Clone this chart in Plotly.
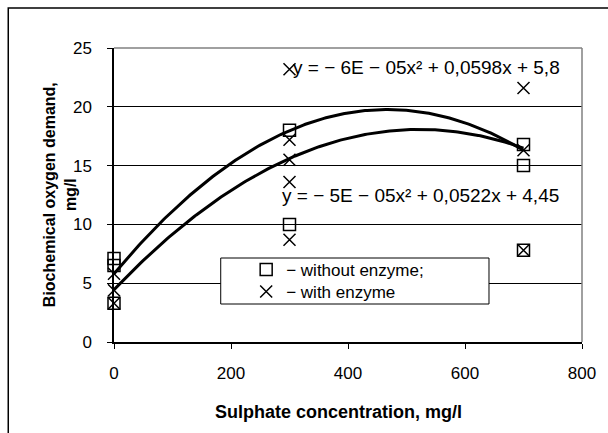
import numpy as np
import plotly.graph_objects as go

# ---- data ----
x_without = [0, 0, 0, 300, 300, 700, 700, 700]
y_without = [7.1, 6.5, 3.3, 18.0, 10.0, 16.8, 15.0, 7.8]

x_with = [0, 0, 0, 300, 300, 300, 300, 300, 700, 700, 700]
y_with = [5.8, 4.4, 3.3, 23.2, 17.2, 15.5, 13.6, 8.7, 21.6, 16.3, 7.8]

# polynomial trend coefficients (a, b, c) for y = a*x^2 + b*x + c
trend_without = [-6.4e-05, 0.0598, 5.8]
trend_with = [-5.0e-05, 0.0522, 4.45]
trend_range = [0, 700]

eq_without = "y = \u2212 6E \u2212 05x\u00b2 + 0,0598x + 5,8"
eq_with = "y = \u2212 5E \u2212 05x\u00b2 + 0,0522x + 4,45"

x_ticks = [0, 200, 400, 600, 800]
y_ticks = [0, 5, 10, 15, 20, 25]

FONT = "Liberation Sans, Arial, sans-serif"

# ---- layout geometry (pixels) ----
W, H = 608, 433
L, R, T, B = 114, 16, 48, 91
pw, ph = W - L - R, H - T - B


def px(xp):
    return (xp - L) / pw


def py(yp):
    return (H - B - yp) / ph


fig = go.Figure()

xt = np.linspace(trend_range[0], trend_range[1], 200)
for coef in (trend_without, trend_with):
    yt = coef[0] * xt ** 2 + coef[1] * xt + coef[2]
    fig.add_trace(go.Scatter(x=xt, y=yt, mode="lines",
                             line=dict(color="black", width=3),
                             showlegend=False, hoverinfo="skip"))

fig.add_trace(go.Scatter(
    x=x_without, y=y_without, mode="markers", name="\u2212 without enzyme;",
    marker=dict(symbol="square-open", size=12, color="black",
                line=dict(width=1.5, color="black")),
    cliponaxis=False, legend="legend"))
fig.add_trace(go.Scatter(
    x=x_with, y=y_with, mode="markers", name="\u2212 with enzyme",
    marker=dict(symbol="x-thin-open", size=12, color="black",
                line=dict(width=1.5, color="black")),
    cliponaxis=False, legend="legend2"))

shapes = [
    # outer chart frame
    dict(type="rect", xref="paper", yref="paper",
         x0=px(6), x1=px(640), y0=py(470), y1=py(8),
         line=dict(color="black", width=1.5), fillcolor="rgba(0,0,0,0)",
         layer="below"),
    # plot area border (top & right, gray)
    dict(type="line", xref="paper", yref="paper", x0=0, x1=1, y0=1, y1=1,
         line=dict(color="#808080", width=1.5)),
    dict(type="line", xref="paper", yref="paper", x0=1, x1=1, y0=0, y1=1,
         line=dict(color="#808080", width=1.5)),
    # legend box
    dict(type="rect", xref="paper", yref="paper",
         x0=px(223), x1=px(497), y0=py(304), y1=py(258),
         line=dict(color="black", width=1), fillcolor="white", layer="above"),
]

annotations = [
    dict(text=eq_without, xref="paper", yref="paper", x=px(295), y=py(68),
         xanchor="left", yanchor="middle", showarrow=False,
         font=dict(family=FONT, size=19, color="black")),
    dict(text=eq_with, xref="paper", yref="paper", x=px(284), y=py(195),
         xanchor="left", yanchor="middle", showarrow=False,
         font=dict(family=FONT, size=19, color="black")),
    dict(text="<b>Biochemical oxygen demand,</b><br><b>mg/l</b>",
         xref="paper", yref="paper", x=px(59), y=py(195),
         xanchor="center", yanchor="middle", textangle=-90, showarrow=False,
         font=dict(family=FONT, size=16, color="black")),
    dict(text="<b>Sulphate concentration, mg/l</b>",
         xref="paper", yref="paper", x=px(343), y=py(412),
         xanchor="center", yanchor="middle", showarrow=False,
         font=dict(family=FONT, size=18, color="black")),
]

legend_common = dict(xanchor="left", yanchor="top",
                     bgcolor="rgba(0,0,0,0)", borderwidth=0,
                     font=dict(family=FONT, size=17, color="black"),
                     itemwidth=30)

fig.update_layout(
    width=W, height=H,
    margin=dict(l=L, r=R, t=T, b=B, pad=0),
    paper_bgcolor="white", plot_bgcolor="white",
    font=dict(family=FONT, size=17, color="black"),
    showlegend=True,
    legend=dict(x=px(249), y=py(252), **legend_common),
    legend2=dict(x=px(249), y=py(274), **legend_common),
    shapes=shapes,
    annotations=annotations,
    xaxis=dict(range=[0, 800], tickvals=x_ticks, ticktext=[str(v) for v in x_ticks],
               showgrid=False, zeroline=False, showline=True,
               linecolor="black", linewidth=1.5, ticks="outside", ticklen=5,
               tickcolor="black", ticklabelstandoff=10, fixedrange=True),
    yaxis=dict(range=[0, 25], tickvals=y_ticks, ticktext=[str(v) for v in y_ticks],
               showgrid=True, gridcolor="black", gridwidth=1, zeroline=False,
               showline=True, linecolor="black", linewidth=1.5,
               ticks="outside", ticklen=5, tickcolor="black",
               ticklabelstandoff=12, fixedrange=True),
)

fig.write_html("out.html")
